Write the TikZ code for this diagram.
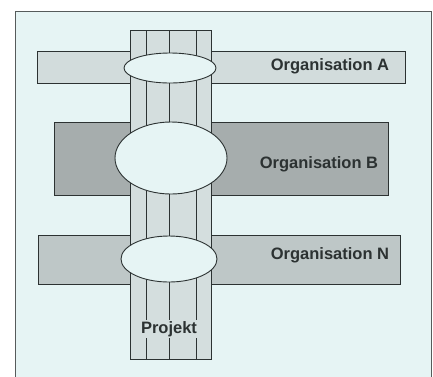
\documentclass[tikz,border=0pt]{standalone}
\usepackage{fontspec}
\setmainfont{Liberation Sans}
\usetikzlibrary{shapes.geometric}
\definecolor{papier}{HTML}{E6F4F4}
\definecolor{rand}{HTML}{2C3232}
\definecolor{orgA}{HTML}{D2DCDC}
\definecolor{orgB}{HTML}{A6ADAD}
\definecolor{orgN}{HTML}{BEC7C7}
\definecolor{proj}{HTML}{D4DEDE}
\tikzset{
  balken/.style={draw=rand,line width=0.9pt},
  schnitt/.style={ellipse,draw=rand,line width=0.9pt,fill=papier,inner sep=0pt},
  beschr/.style={font=\bfseries\fontsize{16.5}{18}\selectfont,text=rand}
}
\begin{document}
\begin{tikzpicture}[x=1pt,y=-1pt]
 \useasboundingbox (0,0) rectangle (433,376);
 \clip (0,0) rectangle (433,376);
 \fill[white] (0,0) rectangle (433,376);
 \draw[fill=papier,draw=rand!80,line width=0.8pt] (15,11) rectangle (431,390);
 % organisationen
 \draw[balken,fill=orgA] (37,51) rectangle (405,83);
 \draw[balken,fill=orgB] (54,122) rectangle (388,195);
 \draw[balken,fill=orgN] (38,235) rectangle (400,284);
 % projekt
 \draw[balken,fill=proj] (130,30) rectangle (211,359);
 \coordinate (p1o) at (146,30); \coordinate (p1u) at (146,359);
 \coordinate (p2o) at (169,30); \coordinate (p2u) at (169,359);
 \coordinate (p3o) at (196,30); \coordinate (p3u) at (196,359);
 \draw[rand,line width=0.8pt] (p1o)--(p1u) (p2o)--(p2u) (p3o)--(p3u);
 % schnittstellen
 \node[schnitt,minimum width=92pt,minimum height=30pt] (sA) at (170,68) {};
 \node[schnitt,minimum width=112pt,minimum height=72pt] (sB) at (171,158) {};
 \node[schnitt,minimum width=96pt,minimum height=46pt] (sN) at (169,259) {};
 \node[beschr] (tA) at (330,66) {Organisation A};
 \node[beschr] (tB) at (319,164) {Organisation B};
 \node[beschr] (tN) at (330,255) {Organisation N};
 \node[beschr,fill=proj,inner sep=1pt] (tP) at (169,329) {Projekt};
\end{tikzpicture}
\end{document}
